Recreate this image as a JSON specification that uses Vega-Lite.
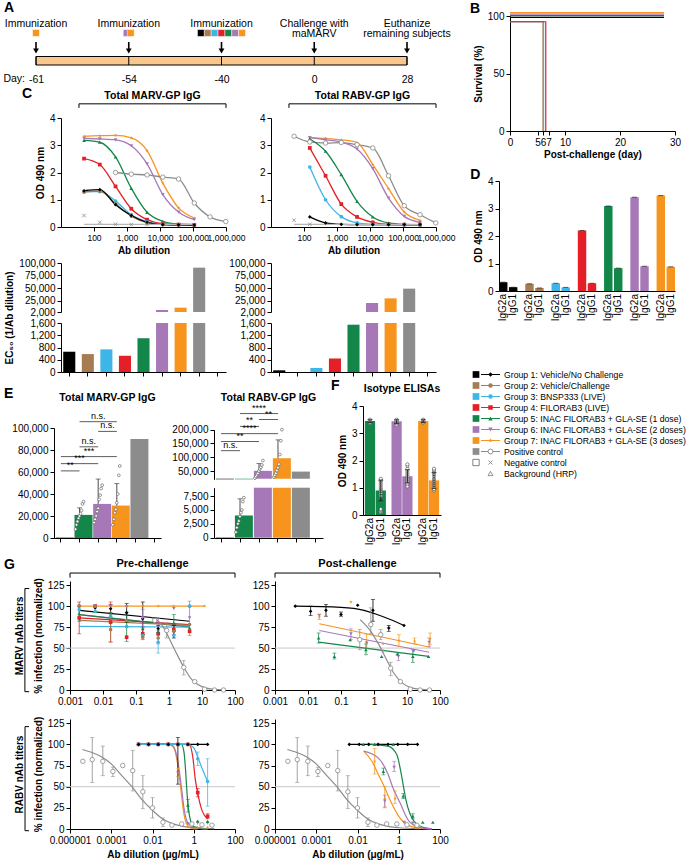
{
"$schema":"https://vega.github.io/schema/vega-lite/v6.json",
"background":"white",
"padding":{"left":3,"top":1,"right":0,"bottom":2},
"config":{
 "font":"Liberation Sans",
 "view":{"stroke":null},
 "axis":{"domainColor":"#000","tickColor":"#000","labelColor":"#000","titleColor":"#000","labelFontSize":9.5,"titleFontSize":10,"titleFontWeight":"bold","grid":false,"tickSize":4,"labelPadding":2,"titlePadding":4,"labelOverlap":false,"labelFlush":false},
 "range":{"category":["#000000","#a67c52","#3db5e6","#e41f26","#13874a","#a778b8","#f7941d","#8c8c8c","#8c8c8c","#b8b8b8"],
  "symbol":["diamond","circle","circle","square","triangle-up","triangle-down","M0,-1L0.24,-0.33L0.95,-0.31L0.38,0.12L0.59,0.81L0,0.4L-0.59,0.81L-0.38,0.12L-0.95,-0.31L-0.24,-0.33Z","circle","M-0.8,-0.8L0.8,0.8M-0.8,0.8L0.8,-0.8","triangle-up"]}
},
"datasets":{
 "tl":[{"day":"-61","label":"Immunization"},{"day":"-54","label":"Immunization"},{"day":"-40","label":"Immunization"},{"day":"0","label":"Challenge with\nmaMARV"},{"day":"28","label":"Euthanize\nremaining subjects"}],
 "imm":[{"day":"-61","grp":"G7"},{"day":"-54","grp":"G6"},{"day":"-54","grp":"G7"},{"day":"-40","grp":"G1"},{"day":"-40","grp":"G2"},{"day":"-40","grp":"G3"},{"day":"-40","grp":"G4"},{"day":"-40","grp":"G5"},{"day":"-40","grp":"G6"},{"day":"-40","grp":"G7"}],
 "surv":[{"grp":"G7","day":0,"pct":103},{"grp":"G7","day":28,"pct":103},{"grp":"G6","day":0,"pct":101.7},{"grp":"G6","day":28,"pct":101.7},{"grp":"G5","day":0,"pct":100.3},{"grp":"G5","day":28,"pct":100.3},{"grp":"G1","day":0,"pct":98.8},{"grp":"G1","day":28,"pct":98.8},{"grp":"G2","day":0,"pct":95},{"grp":"G2","day":6,"pct":0},{"grp":"G3","day":0,"pct":95},{"grp":"G3","day":6.1,"pct":0},{"grp":"G4","day":0,"pct":95},{"grp":"G4","day":6.5,"pct":0}],
 "cM":[
  {"grp":"G7","dil":50,"od":3.33},{"grp":"G7","dil":150,"od":3.35},{"grp":"G7","dil":450,"od":3.36},{"grp":"G7","dil":1350,"od":3.27},{"grp":"G7","dil":4050,"od":2.8},{"grp":"G7","dil":12150,"od":1.61},{"grp":"G7","dil":36450,"od":0.7},{"grp":"G7","dil":109350,"od":0.33},
  {"grp":"G6","dil":50,"od":3.25},{"grp":"G6","dil":150,"od":3.23},{"grp":"G6","dil":450,"od":3.2},{"grp":"G6","dil":1350,"od":2.98},{"grp":"G6","dil":4050,"od":2.32},{"grp":"G6","dil":12150,"od":1.19},{"grp":"G6","dil":36450,"od":0.55},{"grp":"G6","dil":109350,"od":0.27},
  {"grp":"G5","dil":50,"od":3.18},{"grp":"G5","dil":150,"od":3.11},{"grp":"G5","dil":450,"od":2.57},{"grp":"G5","dil":1350,"od":1.42},{"grp":"G5","dil":4050,"od":0.54},{"grp":"G5","dil":12150,"od":0.21},{"grp":"G5","dil":36450,"od":0.11},{"grp":"G5","dil":109350,"od":0.09},
  {"grp":"G4","dil":50,"od":2.51},{"grp":"G4","dil":150,"od":2.29},{"grp":"G4","dil":450,"od":1.49},{"grp":"G4","dil":1350,"od":0.67},{"grp":"G4","dil":4050,"od":0.27},{"grp":"G4","dil":12150,"od":0.12},{"grp":"G4","dil":36450,"od":0.09},{"grp":"G4","dil":109350,"od":0.08},
  {"grp":"G3","dil":50,"od":1.3},{"grp":"G3","dil":150,"od":1.3},{"grp":"G3","dil":450,"od":0.95},{"grp":"G3","dil":1350,"od":0.45},{"grp":"G3","dil":4050,"od":0.2},{"grp":"G3","dil":12150,"od":0.1},{"grp":"G3","dil":36450,"od":0.08},{"grp":"G3","dil":109350,"od":0.07},
  {"grp":"G2","dil":50,"od":1.28},{"grp":"G2","dil":150,"od":1.32},{"grp":"G2","dil":450,"od":0.85},{"grp":"G2","dil":1350,"od":0.4},{"grp":"G2","dil":4050,"od":0.16},{"grp":"G2","dil":12150,"od":0.09},{"grp":"G2","dil":36450,"od":0.08},{"grp":"G2","dil":109350,"od":0.07},
  {"grp":"G1","dil":50,"od":1.33},{"grp":"G1","dil":150,"od":1.37},{"grp":"G1","dil":450,"od":0.82},{"grp":"G1","dil":1350,"od":0.42},{"grp":"G1","dil":4050,"od":0.17},{"grp":"G1","dil":12150,"od":0.09},{"grp":"G1","dil":36450,"od":0.08},{"grp":"G1","dil":109350,"od":0.07},
  {"grp":"Pos","dil":450,"od":2.0},{"grp":"Pos","dil":1350,"od":1.94},{"grp":"Pos","dil":4050,"od":1.91},{"grp":"Pos","dil":12150,"od":1.83},{"grp":"Pos","dil":36450,"od":1.76},{"grp":"Pos","dil":109350,"od":0.88},{"grp":"Pos","dil":328050,"od":0.37},{"grp":"Pos","dil":984150,"od":0.2},
  {"grp":"Neg","dil":50,"od":0.42},{"grp":"Neg","dil":150,"od":0.17},{"grp":"Neg","dil":450,"od":0.1},{"grp":"Neg","dil":1350,"od":0.09},{"grp":"Neg","dil":4050,"od":0.09},
  {"grp":"Bkg","dil":50,"od":0.1},{"grp":"Bkg","dil":150,"od":0.1},{"grp":"Bkg","dil":450,"od":0.1},{"grp":"Bkg","dil":1350,"od":0.1},{"grp":"Bkg","dil":4050,"od":0.1},{"grp":"Bkg","dil":12150,"od":0.1},{"grp":"Bkg","dil":36450,"od":0.1},{"grp":"Bkg","dil":109350,"od":0.1}],
 "cR":[
  {"grp":"Pos","dil":50,"od":3.33},{"grp":"Pos","dil":150,"od":3.12},{"grp":"Pos","dil":450,"od":3.08},{"grp":"Pos","dil":1350,"od":3.1},{"grp":"Pos","dil":4050,"od":3.02},{"grp":"Pos","dil":12150,"od":2.9},{"grp":"Pos","dil":36450,"od":1.88},{"grp":"Pos","dil":109350,"od":0.78},{"grp":"Pos","dil":328050,"od":0.45},{"grp":"Pos","dil":984150,"od":0.15},
  {"grp":"G7","dil":150,"od":3.28},{"grp":"G7","dil":450,"od":3.25},{"grp":"G7","dil":1350,"od":3.2},{"grp":"G7","dil":4050,"od":3.1},{"grp":"G7","dil":12150,"od":2.29},{"grp":"G7","dil":36450,"od":1.41},{"grp":"G7","dil":109350,"od":0.55},{"grp":"G7","dil":328050,"od":0.24},
  {"grp":"G6","dil":150,"od":3.28},{"grp":"G6","dil":450,"od":3.2},{"grp":"G6","dil":1350,"od":3.12},{"grp":"G6","dil":4050,"od":2.86},{"grp":"G6","dil":12150,"od":2.14},{"grp":"G6","dil":36450,"od":1.06},{"grp":"G6","dil":109350,"od":0.39},{"grp":"G6","dil":328050,"od":0.17},
  {"grp":"G5","dil":150,"od":3.23},{"grp":"G5","dil":450,"od":2.78},{"grp":"G5","dil":1350,"od":1.92},{"grp":"G5","dil":4050,"od":0.94},{"grp":"G5","dil":12150,"od":0.37},{"grp":"G5","dil":36450,"od":0.15},{"grp":"G5","dil":109350,"od":0.1},{"grp":"G5","dil":328050,"od":0.09},
  {"grp":"G4","dil":150,"od":2.9},{"grp":"G4","dil":450,"od":1.88},{"grp":"G4","dil":1350,"od":0.84},{"grp":"G4","dil":4050,"od":0.37},{"grp":"G4","dil":12150,"od":0.17},{"grp":"G4","dil":36450,"od":0.1},{"grp":"G4","dil":109350,"od":0.09},{"grp":"G4","dil":328050,"od":0.09},
  {"grp":"G3","dil":150,"od":2.2},{"grp":"G3","dil":450,"od":1.0},{"grp":"G3","dil":1350,"od":0.38},{"grp":"G3","dil":4050,"od":0.15},{"grp":"G3","dil":12150,"od":0.1},{"grp":"G3","dil":36450,"od":0.09},{"grp":"G3","dil":109350,"od":0.09},{"grp":"G3","dil":328050,"od":0.09},
  {"grp":"G1","dil":150,"od":0.37},{"grp":"G1","dil":450,"od":0.15},{"grp":"G1","dil":1350,"od":0.1},{"grp":"G1","dil":4050,"od":0.09},{"grp":"G1","dil":12150,"od":0.09},{"grp":"G1","dil":36450,"od":0.09},{"grp":"G1","dil":109350,"od":0.09},{"grp":"G1","dil":328050,"od":0.09},
  {"grp":"Neg","dil":50,"od":0.25},{"grp":"Neg","dil":150,"od":0.1},
  {"grp":"Bkg","dil":50,"od":0.1},{"grp":"Bkg","dil":150,"od":0.1},{"grp":"Bkg","dil":450,"od":0.1},{"grp":"Bkg","dil":1350,"od":0.1},{"grp":"Bkg","dil":4050,"od":0.1},{"grp":"Bkg","dil":12150,"od":0.1},{"grp":"Bkg","dil":36450,"od":0.1},{"grp":"Bkg","dil":109350,"od":0.1},{"grp":"Bkg","dil":328050,"od":0.1}],
 "ec":[{"p":"M","grp":"G1","val":662},{"p":"M","grp":"G2","val":585},{"p":"M","grp":"G3","val":739},{"p":"M","grp":"G4","val":530},{"p":"M","grp":"G5","val":1103},{"p":"M","grp":"G6","val":6000},{"p":"M","grp":"G7","val":10670},{"p":"M","grp":"Pos","val":90700},
  {"p":"R","grp":"G1","val":55},{"p":"R","grp":"G3","val":132},{"p":"R","grp":"G4","val":441},{"p":"R","grp":"G5","val":1545},{"p":"R","grp":"G6","val":20000},{"p":"R","grp":"G7","val":29300},{"p":"R","grp":"Pos","val":48700}],
 "iso":[{"grp":"G1","iso":"IgG2a","od":0.32},{"grp":"G1","iso":"IgG1","od":0.14},{"grp":"G2","iso":"IgG2a","od":0.26},{"grp":"G2","iso":"IgG1","od":0.11},{"grp":"G3","iso":"IgG2a","od":0.28},{"grp":"G3","iso":"IgG1","od":0.13},{"grp":"G4","iso":"IgG2a","od":2.2},{"grp":"G4","iso":"IgG1","od":0.28},{"grp":"G5","iso":"IgG2a","od":3.09},{"grp":"G5","iso":"IgG1","od":0.83},{"grp":"G6","iso":"IgG2a","od":3.41},{"grp":"G6","iso":"IgG1","od":0.9},{"grp":"G7","iso":"IgG2a","od":3.47},{"grp":"G7","iso":"IgG1","od":0.88}],
 "eBar":[{"p":"M","grp":"G1","val":300},{"p":"M","grp":"G5","val":21000,"hi":27400},{"p":"M","grp":"G6","val":31000,"hi":53600},{"p":"M","grp":"G7","val":29500,"hi":49400},{"p":"M","grp":"Pos","val":90000},
  {"p":"R","grp":"G1","val":60},{"p":"R","grp":"G5","val":4000,"hi":7000},{"p":"R","grp":"G6","val":50700,"hi":77000},{"p":"R","grp":"G7","val":96000,"hi":163000},{"p":"R","grp":"Pos","val":48000}],
 "ePts":[
  {"p":"M","grp":"G5","rep":1,"v":8000},{"p":"M","grp":"G5","rep":2,"v":12000},{"p":"M","grp":"G5","rep":3,"v":15000},{"p":"M","grp":"G5","rep":4,"v":18000},{"p":"M","grp":"G5","rep":5,"v":20000},{"p":"M","grp":"G5","rep":6,"v":22000},{"p":"M","grp":"G5","rep":7,"v":25000},{"p":"M","grp":"G5","rep":8,"v":31000},{"p":"M","grp":"G5","rep":9,"v":33000},
  {"p":"M","grp":"G6","rep":1,"v":14000},{"p":"M","grp":"G6","rep":2,"v":17000},{"p":"M","grp":"G6","rep":3,"v":20000},{"p":"M","grp":"G6","rep":4,"v":24000},{"p":"M","grp":"G6","rep":5,"v":27000},{"p":"M","grp":"G6","rep":6,"v":35000},{"p":"M","grp":"G6","rep":7,"v":39000},{"p":"M","grp":"G6","rep":8,"v":45000},{"p":"M","grp":"G6","rep":9,"v":48000},
  {"p":"M","grp":"G7","rep":1,"v":12000},{"p":"M","grp":"G7","rep":2,"v":17000},{"p":"M","grp":"G7","rep":3,"v":23000},{"p":"M","grp":"G7","rep":4,"v":26000},{"p":"M","grp":"G7","rep":5,"v":32000},{"p":"M","grp":"G7","rep":6,"v":40000},{"p":"M","grp":"G7","rep":7,"v":57000},{"p":"M","grp":"G7","rep":8,"v":65500},
  {"p":"R","grp":"G5","rep":1,"v":1000},{"p":"R","grp":"G5","rep":2,"v":1800},{"p":"R","grp":"G5","rep":3,"v":2500},{"p":"R","grp":"G5","rep":4,"v":3000},{"p":"R","grp":"G5","rep":5,"v":3800},{"p":"R","grp":"G5","rep":6,"v":4500},{"p":"R","grp":"G5","rep":7,"v":5000},{"p":"R","grp":"G5","rep":8,"v":6500},{"p":"R","grp":"G5","rep":9,"v":7200},
  {"p":"R","grp":"G6","rep":1,"v":24000},{"p":"R","grp":"G6","rep":2,"v":30000},{"p":"R","grp":"G6","rep":3,"v":36000},{"p":"R","grp":"G6","rep":4,"v":42000},{"p":"R","grp":"G6","rep":5,"v":50000},{"p":"R","grp":"G6","rep":6,"v":58000},{"p":"R","grp":"G6","rep":7,"v":64000},{"p":"R","grp":"G6","rep":8,"v":72000},{"p":"R","grp":"G6","rep":9,"v":88000},
  {"p":"R","grp":"G7","rep":1,"v":28000},{"p":"R","grp":"G7","rep":2,"v":35000},{"p":"R","grp":"G7","rep":3,"v":42000},{"p":"R","grp":"G7","rep":4,"v":52000},{"p":"R","grp":"G7","rep":5,"v":62000},{"p":"R","grp":"G7","rep":6,"v":75000},{"p":"R","grp":"G7","rep":7,"v":110000},{"p":"R","grp":"G7","rep":8,"v":160000},{"p":"R","grp":"G7","rep":9,"v":200000}],
 "eSig":[{"p":"M","a":"G1","b":"G5","y":61000,"t":"**"},{"p":"M","a":"G1","b":"G6","y":67600,"t":"***"},{"p":"M","a":"G1","b":"G7","y":74000,"t":"***"},{"p":"M","a":"G5","b":"G6","y":82900,"t":"n.s."},{"p":"M","a":"G6","b":"G7","y":96900,"t":"n.s."},{"p":"M","a":"G5","b":"G7","y":105750,"t":"n.s."},
  {"p":"R","a":"G1","b":"G5","y":124000,"t":"n.s."},{"p":"R","a":"G1","b":"G6","y":157100,"t":"**"},{"p":"R","a":"G1","b":"G7","y":185700,"t":"****"},{"p":"R","a":"G5","b":"G6","y":212000,"t":"**"},{"p":"R","a":"G6","b":"G7","y":237000,"t":"**"},{"p":"R","a":"G5","b":"G7","y":258600,"t":"****"}],
 "fBar":[{"grp":"G5","iso":"IgG2a","od":3.45,"lo":3.4,"hi":3.5},{"grp":"G5","iso":"IgG1","od":0.9,"lo":0.52,"hi":1.28},{"grp":"G6","iso":"IgG2a","od":3.44,"lo":3.36,"hi":3.5},{"grp":"G6","iso":"IgG1","od":1.42,"lo":1.18,"hi":1.66},{"grp":"G7","iso":"IgG2a","od":3.45,"lo":3.4,"hi":3.5},{"grp":"G7","iso":"IgG1","od":1.27,"lo":0.98,"hi":1.56}],
 "fPts":[
  {"grp":"G5","iso":"IgG2a","v":3.38},{"grp":"G5","iso":"IgG2a","v":3.42},{"grp":"G5","iso":"IgG2a","v":3.45},{"grp":"G5","iso":"IgG2a","v":3.47},{"grp":"G5","iso":"IgG2a","v":3.5},
  {"grp":"G5","iso":"IgG1","v":0.1},{"grp":"G5","iso":"IgG1","v":0.14},{"grp":"G5","iso":"IgG1","v":0.18},{"grp":"G5","iso":"IgG1","v":0.22},{"grp":"G5","iso":"IgG1","v":0.7},{"grp":"G5","iso":"IgG1","v":0.8},{"grp":"G5","iso":"IgG1","v":0.88},{"grp":"G5","iso":"IgG1","v":0.95},{"grp":"G5","iso":"IgG1","v":1.0},{"grp":"G5","iso":"IgG1","v":1.08},{"grp":"G5","iso":"IgG1","v":1.15},{"grp":"G5","iso":"IgG1","v":1.22},{"grp":"G5","iso":"IgG1","v":1.28},{"grp":"G5","iso":"IgG1","v":1.33},
  {"grp":"G6","iso":"IgG2a","v":3.3},{"grp":"G6","iso":"IgG2a","v":3.36},{"grp":"G6","iso":"IgG2a","v":3.4},{"grp":"G6","iso":"IgG2a","v":3.44},{"grp":"G6","iso":"IgG2a","v":3.47},{"grp":"G6","iso":"IgG2a","v":3.5},
  {"grp":"G6","iso":"IgG1","v":1.05},{"grp":"G6","iso":"IgG1","v":1.15},{"grp":"G6","iso":"IgG1","v":1.22},{"grp":"G6","iso":"IgG1","v":1.3},{"grp":"G6","iso":"IgG1","v":1.36},{"grp":"G6","iso":"IgG1","v":1.42},{"grp":"G6","iso":"IgG1","v":1.48},{"grp":"G6","iso":"IgG1","v":1.55},{"grp":"G6","iso":"IgG1","v":1.62},{"grp":"G6","iso":"IgG1","v":1.7},{"grp":"G6","iso":"IgG1","v":1.8},{"grp":"G6","iso":"IgG1","v":1.86},
  {"grp":"G7","iso":"IgG2a","v":3.38},{"grp":"G7","iso":"IgG2a","v":3.42},{"grp":"G7","iso":"IgG2a","v":3.45},{"grp":"G7","iso":"IgG2a","v":3.48},{"grp":"G7","iso":"IgG2a","v":3.5},
  {"grp":"G7","iso":"IgG1","v":0.9},{"grp":"G7","iso":"IgG1","v":0.95},{"grp":"G7","iso":"IgG1","v":1.02},{"grp":"G7","iso":"IgG1","v":1.1},{"grp":"G7","iso":"IgG1","v":1.18},{"grp":"G7","iso":"IgG1","v":1.25},{"grp":"G7","iso":"IgG1","v":1.32},{"grp":"G7","iso":"IgG1","v":1.42},{"grp":"G7","iso":"IgG1","v":1.5},{"grp":"G7","iso":"IgG1","v":1.58},{"grp":"G7","iso":"IgG1","v":1.65},{"grp":"G7","iso":"IgG1","v":1.7}],
 "leg":[{"grp":"G1","label":"Group 1: Vehicle/No Challenge"},{"grp":"G2","label":"Group 2: Vehicle/Challenge"},{"grp":"G3","label":"Group 3: BNSP333 (LIVE)"},{"grp":"G4","label":"Group 4: FILORAB3 (LIVE)"},{"grp":"G5","label":"Group 5: INAC FILORAB3 + GLA-SE (1 dose)"},{"grp":"G6","label":"Group 6: INAC FILORAB3 + GLA-SE (2 doses)"},{"grp":"G7","label":"Group 7: INAC FILORAB3 + GLA-SE (3 doses)"},{"grp":"Pos","label":"Positive control"},{"grp":"Neg","label":"Negative control"},{"grp":"Bkg","label":"Background (HRP)"}],
 "gfit":[
  {"p":"MP","grp":"G1","x":0.0019,"y":95},{"p":"MP","grp":"G1","x":4.2,"y":82},
  {"p":"MP","grp":"G7","x":0.0019,"y":100},{"p":"MP","grp":"G7","x":12,"y":100},
  {"p":"MP","grp":"G6","x":0.0019,"y":90},{"p":"MP","grp":"G6","x":4.2,"y":76},
  {"p":"MP","grp":"G4","x":0.0019,"y":86},{"p":"MP","grp":"G4","x":4.2,"y":78},
  {"p":"MP","grp":"G5","x":0.0019,"y":90},{"p":"MP","grp":"G5","x":4.2,"y":75},
  {"p":"MP","grp":"G3","x":0.0019,"y":76},{"p":"MP","grp":"G3","x":4.2,"y":75},
  {"p":"MP","grp":"G2","x":0.0019,"y":83},{"p":"MP","grp":"G2","x":4.2,"y":77},
  {"p":"MP","grp":"Pos","x":0.3,"y":86},{"p":"MP","grp":"Pos","x":0.6,"y":78},{"p":"MP","grp":"Pos","x":1,"y":62},{"p":"MP","grp":"Pos","x":1.4,"y":50},{"p":"MP","grp":"Pos","x":2,"y":38},{"p":"MP","grp":"Pos","x":3,"y":25},{"p":"MP","grp":"Pos","x":5,"y":12},{"p":"MP","grp":"Pos","x":10,"y":4},{"p":"MP","grp":"Pos","x":20,"y":1},{"p":"MP","grp":"Pos","x":50,"y":0.2},
  {"p":"MQ","grp":"G1","x":0.0041,"y":100},{"p":"MQ","grp":"G1","x":0.1,"y":98.5},{"p":"MQ","grp":"G1","x":0.5,"y":95},{"p":"MQ","grp":"G1","x":2,"y":87},{"p":"MQ","grp":"G1","x":8.1,"y":77},
  {"p":"MQ","grp":"G7","x":0.022,"y":79},{"p":"MQ","grp":"G7","x":50,"y":51},
  {"p":"MQ","grp":"G6","x":0.022,"y":71},{"p":"MQ","grp":"G6","x":47,"y":45},
  {"p":"MQ","grp":"G5","x":0.021,"y":57},{"p":"MQ","grp":"G5","x":45,"y":40},
  {"p":"MQ","grp":"Pos","x":0.38,"y":84},{"p":"MQ","grp":"Pos","x":0.8,"y":70},{"p":"MQ","grp":"Pos","x":1.5,"y":52},{"p":"MQ","grp":"Pos","x":2.5,"y":35},{"p":"MQ","grp":"Pos","x":4,"y":20},{"p":"MQ","grp":"Pos","x":8,"y":7},{"p":"MQ","grp":"Pos","x":16,"y":2},{"p":"MQ","grp":"Pos","x":48,"y":0.2},
  {"p":"RP","grp":"G1","x":0.0021,"y":100},{"p":"RP","grp":"G1","x":4.7,"y":100},
  {"p":"RP","grp":"G7","x":0.0021,"y":100},{"p":"RP","grp":"G7","x":0.06,"y":100},{"p":"RP","grp":"G7","x":0.1,"y":97},{"p":"RP","grp":"G7","x":0.17,"y":75},{"p":"RP","grp":"G7","x":0.23,"y":50},{"p":"RP","grp":"G7","x":0.3,"y":25},{"p":"RP","grp":"G7","x":0.45,"y":6},{"p":"RP","grp":"G7","x":0.7,"y":1},{"p":"RP","grp":"G7","x":1.5,"y":0},
  {"p":"RP","grp":"G6","x":0.0021,"y":100},{"p":"RP","grp":"G6","x":0.06,"y":100},{"p":"RP","grp":"G6","x":0.1,"y":98},{"p":"RP","grp":"G6","x":0.17,"y":80},{"p":"RP","grp":"G6","x":0.25,"y":50},{"p":"RP","grp":"G6","x":0.35,"y":22},{"p":"RP","grp":"G6","x":0.5,"y":8},{"p":"RP","grp":"G6","x":1,"y":2},{"p":"RP","grp":"G6","x":4.7,"y":0},
  {"p":"RP","grp":"G5","x":0.0021,"y":100},{"p":"RP","grp":"G5","x":0.25,"y":100},{"p":"RP","grp":"G5","x":0.33,"y":92},{"p":"RP","grp":"G5","x":0.4,"y":70},{"p":"RP","grp":"G5","x":0.45,"y":50},{"p":"RP","grp":"G5","x":0.52,"y":30},{"p":"RP","grp":"G5","x":0.7,"y":10},{"p":"RP","grp":"G5","x":1,"y":3},{"p":"RP","grp":"G5","x":4.7,"y":0},
  {"p":"RP","grp":"G4","x":0.0021,"y":100},{"p":"RP","grp":"G4","x":0.6,"y":100},{"p":"RP","grp":"G4","x":0.9,"y":85},{"p":"RP","grp":"G4","x":1.2,"y":58},{"p":"RP","grp":"G4","x":1.56,"y":42},{"p":"RP","grp":"G4","x":2.5,"y":22},{"p":"RP","grp":"G4","x":4.7,"y":12},
  {"p":"RP","grp":"G3","x":0.0021,"y":100},{"p":"RP","grp":"G3","x":0.5,"y":100},{"p":"RP","grp":"G3","x":1,"y":96},{"p":"RP","grp":"G3","x":1.56,"y":85},{"p":"RP","grp":"G3","x":2.5,"y":72},{"p":"RP","grp":"G3","x":4.7,"y":56},
  {"p":"R","grp":"Pos","x":0.000004,"y":94},{"p":"R","grp":"Pos","x":0.00001,"y":91},{"p":"R","grp":"Pos","x":0.00003,"y":86},{"p":"R","grp":"Pos","x":0.0001,"y":77},{"p":"R","grp":"Pos","x":0.0003,"y":64},{"p":"R","grp":"Pos","x":0.001,"y":50},{"p":"R","grp":"Pos","x":0.003,"y":35},{"p":"R","grp":"Pos","x":0.01,"y":22},{"p":"R","grp":"Pos","x":0.03,"y":12},{"p":"R","grp":"Pos","x":0.1,"y":6},{"p":"R","grp":"Pos","x":0.3,"y":3},{"p":"R","grp":"Pos","x":1,"y":1.5},{"p":"R","grp":"Pos","x":10,"y":0.5},
  {"p":"RQ","grp":"G1","x":0.004,"y":100},{"p":"RQ","grp":"G1","x":8.1,"y":100},
  {"p":"RQ","grp":"G5","x":0.03,"y":100},{"p":"RQ","grp":"G5","x":0.3,"y":98},{"p":"RQ","grp":"G5","x":0.8,"y":88},{"p":"RQ","grp":"G5","x":1.3,"y":66},{"p":"RQ","grp":"G5","x":1.7,"y":50},{"p":"RQ","grp":"G5","x":2.2,"y":35},{"p":"RQ","grp":"G5","x":3.5,"y":18},{"p":"RQ","grp":"G5","x":6,"y":8},{"p":"RQ","grp":"G5","x":15,"y":2},{"p":"RQ","grp":"G5","x":40,"y":0.3},
  {"p":"RQ","grp":"G7","x":0.02,"y":92},{"p":"RQ","grp":"G7","x":0.05,"y":80},{"p":"RQ","grp":"G7","x":0.1,"y":65},{"p":"RQ","grp":"G7","x":0.2,"y":50},{"p":"RQ","grp":"G7","x":0.4,"y":33},{"p":"RQ","grp":"G7","x":1,"y":15},{"p":"RQ","grp":"G7","x":3,"y":4},{"p":"RQ","grp":"G7","x":10,"y":1},{"p":"RQ","grp":"G7","x":40,"y":0.2},
  {"p":"RQ","grp":"G6","x":0.02,"y":92},{"p":"RQ","grp":"G6","x":0.1,"y":84},{"p":"RQ","grp":"G6","x":0.3,"y":65},{"p":"RQ","grp":"G6","x":0.5,"y":50},{"p":"RQ","grp":"G6","x":1.2,"y":30},{"p":"RQ","grp":"G6","x":3,"y":10},{"p":"RQ","grp":"G6","x":10,"y":2},{"p":"RQ","grp":"G6","x":40,"y":0.2}],
 "gpts":[
  {"p":"MP","grp":"G1","x":0.0019,"y":100},{"p":"MP","grp":"G1","x":0.0058,"y":98},{"p":"MP","grp":"G1","x":0.017,"y":97,"lo":92,"hi":102},{"p":"MP","grp":"G1","x":0.052,"y":92,"lo":81,"hi":103},{"p":"MP","grp":"G1","x":0.16,"y":85,"lo":66,"hi":105},{"p":"MP","grp":"G1","x":0.47,"y":73,"lo":68,"hi":77},{"p":"MP","grp":"G1","x":1.4,"y":70,"lo":62,"hi":77},{"p":"MP","grp":"G1","x":4.2,"y":100},
  {"p":"MP","grp":"G7","x":0.0019,"y":100},{"p":"MP","grp":"G7","x":0.0058,"y":100},{"p":"MP","grp":"G7","x":0.017,"y":100},{"p":"MP","grp":"G7","x":0.052,"y":100},{"p":"MP","grp":"G7","x":0.16,"y":100},{"p":"MP","grp":"G7","x":0.47,"y":100},{"p":"MP","grp":"G7","x":1.4,"y":100},{"p":"MP","grp":"G7","x":4.2,"y":100},{"p":"MP","grp":"G7","x":12,"y":100},
  {"p":"MP","grp":"G6","x":0.0019,"y":100},{"p":"MP","grp":"G6","x":0.0058,"y":100},{"p":"MP","grp":"G6","x":0.017,"y":100},{"p":"MP","grp":"G6","x":0.052,"y":99},{"p":"MP","grp":"G6","x":0.16,"y":86,"lo":76,"hi":96},{"p":"MP","grp":"G6","x":0.47,"y":70,"lo":55,"hi":85},{"p":"MP","grp":"G6","x":1.4,"y":97},{"p":"MP","grp":"G6","x":4.2,"y":86,"lo":65,"hi":106},
  {"p":"MP","grp":"G4","x":0.0019,"y":86,"lo":67,"hi":105},{"p":"MP","grp":"G4","x":0.0058,"y":100},{"p":"MP","grp":"G4","x":0.017,"y":81,"lo":57,"hi":105},{"p":"MP","grp":"G4","x":0.052,"y":63},{"p":"MP","grp":"G4","x":0.16,"y":67,"lo":60,"hi":74},{"p":"MP","grp":"G4","x":0.47,"y":67},{"p":"MP","grp":"G4","x":1.4,"y":72,"lo":66,"hi":78},{"p":"MP","grp":"G4","x":4.2,"y":70},
  {"p":"MP","grp":"G5","x":0.0019,"y":91,"lo":82,"hi":100},{"p":"MP","grp":"G5","x":0.0058,"y":94},{"p":"MP","grp":"G5","x":0.017,"y":92},{"p":"MP","grp":"G5","x":0.052,"y":76,"lo":58,"hi":93},{"p":"MP","grp":"G5","x":0.16,"y":73},{"p":"MP","grp":"G5","x":0.47,"y":70},{"p":"MP","grp":"G5","x":1.4,"y":80,"lo":70,"hi":90},{"p":"MP","grp":"G5","x":4.2,"y":74},
  {"p":"MP","grp":"G3","x":0.0019,"y":96},{"p":"MP","grp":"G3","x":0.0058,"y":94},{"p":"MP","grp":"G3","x":0.017,"y":88},{"p":"MP","grp":"G3","x":0.052,"y":76},{"p":"MP","grp":"G3","x":0.16,"y":65},{"p":"MP","grp":"G3","x":0.47,"y":57,"lo":44,"hi":66},{"p":"MP","grp":"G3","x":1.4,"y":65},{"p":"MP","grp":"G3","x":4.2,"y":100},
  {"p":"MP","grp":"G2","x":0.0019,"y":100},{"p":"MP","grp":"G2","x":0.0058,"y":100},{"p":"MP","grp":"G2","x":0.017,"y":72,"lo":58,"hi":86},{"p":"MP","grp":"G2","x":0.052,"y":83},{"p":"MP","grp":"G2","x":0.16,"y":63},{"p":"MP","grp":"G2","x":0.47,"y":62},{"p":"MP","grp":"G2","x":1.4,"y":70},{"p":"MP","grp":"G2","x":4.2,"y":78},
  {"p":"MP","grp":"Pos","x":0.37,"y":83},{"p":"MP","grp":"Pos","x":0.85,"y":71,"lo":62,"hi":80},{"p":"MP","grp":"Pos","x":2.8,"y":27,"lo":18,"hi":35},{"p":"MP","grp":"Pos","x":6,"y":10},{"p":"MP","grp":"Pos","x":12,"y":1},{"p":"MP","grp":"Pos","x":24,"y":0},{"p":"MP","grp":"Pos","x":45,"y":0},
  {"p":"MQ","grp":"G1","x":0.0041,"y":100},{"p":"MQ","grp":"G1","x":0.012,"y":94,"lo":89,"hi":100},{"p":"MQ","grp":"G1","x":0.035,"y":95,"lo":88,"hi":102},{"p":"MQ","grp":"G1","x":0.1,"y":90,"lo":88,"hi":93},{"p":"MQ","grp":"G1","x":0.32,"y":101},{"p":"MQ","grp":"G1","x":0.93,"y":95,"lo":82,"hi":108},{"p":"MQ","grp":"G1","x":2.8,"y":74,"lo":70,"hi":77},{"p":"MQ","grp":"G1","x":8.1,"y":77},
  {"p":"MQ","grp":"G7","x":0.022,"y":87,"lo":84,"hi":90},{"p":"MQ","grp":"G7","x":0.2,"y":105},{"p":"MQ","grp":"G7","x":0.6,"y":57,"lo":50,"hi":66},{"p":"MQ","grp":"G7","x":1.9,"y":55},{"p":"MQ","grp":"G7","x":5.7,"y":59,"lo":52,"hi":66},{"p":"MQ","grp":"G7","x":17,"y":58,"lo":55,"hi":62},{"p":"MQ","grp":"G7","x":50,"y":61,"lo":54,"hi":68},
  {"p":"MQ","grp":"G6","x":0.022,"y":89},{"p":"MQ","grp":"G6","x":0.2,"y":67,"lo":60,"hi":73},{"p":"MQ","grp":"G6","x":0.6,"y":56},{"p":"MQ","grp":"G6","x":1.8,"y":46},{"p":"MQ","grp":"G6","x":5.5,"y":40,"lo":35,"hi":44},{"p":"MQ","grp":"G6","x":16,"y":46},{"p":"MQ","grp":"G6","x":47,"y":57,"lo":52,"hi":62},
  {"p":"MQ","grp":"G5","x":0.021,"y":62,"lo":56,"hi":68},{"p":"MQ","grp":"G5","x":0.063,"y":40,"lo":37,"hi":44},{"p":"MQ","grp":"G5","x":0.19,"y":60},{"p":"MQ","grp":"G5","x":0.57,"y":48,"lo":42,"hi":55},{"p":"MQ","grp":"G5","x":1.7,"y":40},{"p":"MQ","grp":"G5","x":5.1,"y":43},{"p":"MQ","grp":"G5","x":15,"y":40,"lo":33,"hi":48},{"p":"MQ","grp":"G5","x":45,"y":40},
  {"p":"MQ","grp":"Pos","x":0.37,"y":60,"lo":48,"hi":72},{"p":"MQ","grp":"Pos","x":0.8,"y":78,"lo":67,"hi":98},{"p":"MQ","grp":"Pos","x":1.6,"y":66,"lo":60,"hi":72},{"p":"MQ","grp":"Pos","x":3.2,"y":26,"lo":17,"hi":33},{"p":"MQ","grp":"Pos","x":6.3,"y":10},{"p":"MQ","grp":"Pos","x":12.6,"y":1},{"p":"MQ","grp":"Pos","x":25,"y":0},{"p":"MQ","grp":"Pos","x":48,"y":0},
  {"p":"RP","grp":"G2","x":0.0021,"y":100},{"p":"RP","grp":"G2","x":0.0064,"y":100},{"p":"RP","grp":"G2","x":0.019,"y":100},{"p":"RP","grp":"G2","x":0.058,"y":100},
  {"p":"RP","grp":"G7","x":0.0021,"y":100},{"p":"RP","grp":"G7","x":0.0064,"y":100},{"p":"RP","grp":"G7","x":0.019,"y":100},{"p":"RP","grp":"G7","x":0.058,"y":100},{"p":"RP","grp":"G7","x":0.17,"y":71,"lo":62,"hi":80},{"p":"RP","grp":"G7","x":0.52,"y":3},{"p":"RP","grp":"G7","x":1.56,"y":2},{"p":"RP","grp":"G7","x":4.7,"y":2},
  {"p":"RP","grp":"G6","x":0.0021,"y":100},{"p":"RP","grp":"G6","x":0.0064,"y":100},{"p":"RP","grp":"G6","x":0.019,"y":100},{"p":"RP","grp":"G6","x":0.058,"y":100},{"p":"RP","grp":"G6","x":0.17,"y":66},{"p":"RP","grp":"G6","x":0.52,"y":6},{"p":"RP","grp":"G6","x":1.56,"y":7},{"p":"RP","grp":"G6","x":4.7,"y":7},
  {"p":"RP","grp":"G5","x":0.0021,"y":100},{"p":"RP","grp":"G5","x":0.0064,"y":100},{"p":"RP","grp":"G5","x":0.019,"y":100},{"p":"RP","grp":"G5","x":0.058,"y":100},{"p":"RP","grp":"G5","x":0.17,"y":100},{"p":"RP","grp":"G5","x":0.52,"y":28,"lo":20,"hi":35},{"p":"RP","grp":"G5","x":1.56,"y":9.5},{"p":"RP","grp":"G5","x":4.7,"y":9},
  {"p":"RP","grp":"G4","x":0.0021,"y":100},{"p":"RP","grp":"G4","x":0.0064,"y":100},{"p":"RP","grp":"G4","x":0.019,"y":100},{"p":"RP","grp":"G4","x":0.058,"y":100},{"p":"RP","grp":"G4","x":0.17,"y":100},{"p":"RP","grp":"G4","x":0.52,"y":100},{"p":"RP","grp":"G4","x":1.56,"y":43,"lo":38,"hi":48},{"p":"RP","grp":"G4","x":4.7,"y":15,"lo":12,"hi":18},
  {"p":"RP","grp":"G3","x":0.0021,"y":100},{"p":"RP","grp":"G3","x":0.0064,"y":100},{"p":"RP","grp":"G3","x":0.019,"y":100},{"p":"RP","grp":"G3","x":0.058,"y":100},{"p":"RP","grp":"G3","x":0.17,"y":100},{"p":"RP","grp":"G3","x":0.52,"y":100},{"p":"RP","grp":"G3","x":1.56,"y":83,"lo":75,"hi":91},{"p":"RP","grp":"G3","x":4.7,"y":56,"lo":27,"hi":83},
  {"p":"RP","grp":"G1","x":0.0021,"y":100},{"p":"RP","grp":"G1","x":0.0064,"y":100},{"p":"RP","grp":"G1","x":0.019,"y":100},{"p":"RP","grp":"G1","x":0.058,"y":100},{"p":"RP","grp":"G1","x":0.17,"y":100,"lo":53,"hi":108},{"p":"RP","grp":"G1","x":0.52,"y":100},{"p":"RP","grp":"G1","x":1.56,"y":100},{"p":"RP","grp":"G1","x":4.7,"y":100},
  {"p":"R","grp":"Pos","x":0.0000042,"y":80},{"p":"R","grp":"Pos","x":0.000012,"y":82,"lo":55,"hi":108},{"p":"R","grp":"Pos","x":0.000039,"y":80,"lo":63,"hi":98},{"p":"R","grp":"Pos","x":0.00012,"y":68,"lo":62,"hi":73},{"p":"R","grp":"Pos","x":0.00036,"y":75},{"p":"R","grp":"Pos","x":0.0011,"y":69,"lo":45,"hi":93},{"p":"R","grp":"Pos","x":0.0034,"y":44,"lo":24,"hi":63},{"p":"R","grp":"Pos","x":0.01,"y":25,"lo":13,"hi":37},{"p":"R","grp":"Pos","x":0.032,"y":8,"lo":3,"hi":13},{"p":"R","grp":"Pos","x":0.087,"y":4.5},{"p":"R","grp":"Pos","x":0.26,"y":6},{"p":"R","grp":"Pos","x":0.81,"y":6},{"p":"R","grp":"Pos","x":2.5,"y":5},{"p":"R","grp":"Pos","x":7.6,"y":4.5},
  {"p":"RQ","grp":"G1","x":0.004,"y":100},{"p":"RQ","grp":"G1","x":0.012,"y":100},{"p":"RQ","grp":"G1","x":0.035,"y":100},{"p":"RQ","grp":"G1","x":0.1,"y":100},{"p":"RQ","grp":"G1","x":0.3,"y":100},{"p":"RQ","grp":"G1","x":0.9,"y":100},{"p":"RQ","grp":"G1","x":2.7,"y":100},{"p":"RQ","grp":"G1","x":8.1,"y":100},
  {"p":"RQ","grp":"G5","x":0.019,"y":100},{"p":"RQ","grp":"G5","x":0.068,"y":100},{"p":"RQ","grp":"G5","x":0.18,"y":68,"lo":64,"hi":72},{"p":"RQ","grp":"G5","x":0.54,"y":100},{"p":"RQ","grp":"G5","x":1.66,"y":39,"lo":36,"hi":42},{"p":"RQ","grp":"G5","x":4.8,"y":15,"lo":12,"hi":18},{"p":"RQ","grp":"G5","x":14.6,"y":8},{"p":"RQ","grp":"G5","x":45,"y":8},
  {"p":"RQ","grp":"G7","x":0.068,"y":80,"lo":65,"hi":95},{"p":"RQ","grp":"G7","x":0.21,"y":36,"lo":25,"hi":50},{"p":"RQ","grp":"G7","x":0.66,"y":36,"lo":30,"hi":45},{"p":"RQ","grp":"G7","x":2.0,"y":8},{"p":"RQ","grp":"G7","x":6,"y":2},
  {"p":"RQ","grp":"G6","x":0.21,"y":33,"lo":26,"hi":40},{"p":"RQ","grp":"G6","x":0.6,"y":73,"lo":68,"hi":80},{"p":"RQ","grp":"G6","x":1.8,"y":8},{"p":"RQ","grp":"G6","x":4.8,"y":7}]
},
"spacing":11,
"vconcat":[
 {"spacing":15,"hconcat":[
  {"spacing":2,"vconcat":[
   {"width":321,"height":50,
    "resolve":{"scale":{"xOffset":"independent"}},
    "layer":[
     {"data":{"values":[{"start":"-61","end":"28"}]},"mark":{"type":"rect","fill":"#f9c78c","stroke":"#000","strokeWidth":1},
      "encoding":{"x":{"field":"start","type":"ordinal","scale":{"type":"point","domain":["-61","-54","-40","0","28"],"range":[-25,346],"padding":0},"axis":{"title":null,"domain":false,"ticks":false,"tickSize":0,"labelPadding":8,"labelFontSize":10.5,"labelAngle":0,"labelOverlap":false}},
       "x2":{"field":"end"},"y":{"datum":0.2,"type":"quantitative","scale":{"domain":[0,10]},"axis":null},"y2":{"datum":1.9}}},
     {"data":{"name":"tl"},"mark":{"type":"rule","color":"#000","strokeWidth":1},"encoding":{"x":{"field":"day","type":"ordinal"},"y":{"datum":0.2},"y2":{"datum":1.9}}},
     {"data":{"name":"tl"},"mark":{"type":"rule","color":"#000","strokeWidth":1.6},"encoding":{"x":{"field":"day","type":"ordinal"},"y":{"datum":2.9},"y2":{"datum":4.8}}},
     {"data":{"name":"tl"},"mark":{"type":"point","shape":"triangle-down","filled":true,"color":"#000","size":34,"opacity":1},"encoding":{"x":{"field":"day","type":"ordinal"},"y":{"datum":3.0}}},
     {"data":{"name":"tl"},"mark":{"type":"text","baseline":"top","fontSize":10.5,"lineBreak":"\n","lineHeight":10.5,"color":"#000"},"encoding":{"x":{"field":"day","type":"ordinal"},"y":{"datum":9.5},"text":{"field":"label"}}},
     {"data":{"name":"imm"},"transform":[{"filter":"datum.day=='-61'"}],"mark":{"type":"point","shape":"square","filled":true,"size":48,"opacity":1,"stroke":"#fff","strokeWidth":0.5},"encoding":{"x":{"field":"day","type":"ordinal"},"y":{"datum":6.6},"color":{"field":"grp","type":"nominal","scale":{"domain":["G1","G2","G3","G4","G5","G6","G7","Pos","Neg","Bkg"]},"legend":null}}},
     {"data":{"name":"imm"},"transform":[{"filter":"datum.day=='-54'"}],"mark":{"type":"point","shape":"square","filled":true,"size":48,"opacity":1,"stroke":"#fff","strokeWidth":0.5},"encoding":{"x":{"field":"day","type":"ordinal"},"xOffset":{"field":"grp","type":"nominal","scale":{"type":"point","domain":["G6","G7"],"range":[-4,4]}},"y":{"datum":6.6},"color":{"field":"grp","type":"nominal","scale":{"domain":["G1","G2","G3","G4","G5","G6","G7","Pos","Neg","Bkg"]},"legend":null}}},
     {"data":{"name":"imm"},"transform":[{"filter":"datum.day=='-40'"}],"mark":{"type":"point","shape":"square","filled":true,"size":48,"opacity":1,"stroke":"#fff","strokeWidth":0.5},"encoding":{"x":{"field":"day","type":"ordinal"},"xOffset":{"field":"grp","type":"nominal","scale":{"type":"point","domain":["G1","G2","G3","G4","G5","G6","G7"],"range":[-24,24]}},"y":{"datum":6.6},"color":{"field":"grp","type":"nominal","scale":{"domain":["G1","G2","G3","G4","G5","G6","G7","Pos","Neg","Bkg"]},"legend":null}}},
     {"data":{"values":[{}]},"mark":{"type":"text","text":"Day:","align":"right","baseline":"middle","fontSize":10.5,"dx":-11,"color":"#000"},"encoding":{"x":{"datum":"-61","type":"ordinal"},"y":{"datum":-2.6}}},
     {"data":{"values":[{}]},"mark":{"type":"text","text":"A","align":"left","baseline":"middle","fontSize":14,"fontWeight":"bold","dx":-32,"dy":-7.7,"color":"#000"},"encoding":{"x":{"datum":"-61","type":"ordinal"},"y":{"datum":10}}}
    ]},
   {"bounds":"flush","spacing":45,"hconcat":[
    {"width":165,"height":109,
     "layer":[
      {"data":{"name":"cM"},"transform":[{"filter":"datum.grp!='Neg'"}],"mark":{"type":"line","interpolate":"monotone","strokeWidth":1.3},
       "encoding":{"x":{"field":"dil","type":"quantitative","scale":{"type":"log","domain":[35,1000000]},"axis":{"values":[100,1000,10000,100000,1000000],"tickCount":20,"format":",","title":"Ab dilution","labelFontSize":8.5,"labelOverlap":false}},
        "y":{"field":"od","type":"quantitative","scale":{"domain":[0,4]},"axis":{"values":[0,1,2,3,4],"tickCount":20,"format":"d","title":"OD 490 nm","labelFontSize":10,"labelOverlap":false}},
        "color":{"field":"grp","type":"nominal","scale":{"domain":["G1","G2","G3","G4","G5","G6","G7","Pos","Neg","Bkg"]},"legend":null},"detail":{"field":"grp"}}},
      {"data":{"name":"cM"},"transform":[{"filter":"indexof(['Pos','Neg','Bkg'], datum.grp) < 0"}],"mark":{"type":"point","filled":true,"size":14,"opacity":1},
       "encoding":{"x":{"field":"dil","type":"quantitative"},"y":{"field":"od","type":"quantitative"},"color":{"field":"grp","type":"nominal","scale":{"domain":["G1","G2","G3","G4","G5","G6","G7","Pos","Neg","Bkg"]},"legend":null},"shape":{"field":"grp","type":"nominal","scale":{"domain":["G1","G2","G3","G4","G5","G6","G7","Pos","Neg","Bkg"]},"legend":null}}},
      {"data":{"name":"cM"},"transform":[{"filter":"datum.grp=='Pos' || datum.grp=='Neg'"}],"mark":{"type":"point","filled":false,"fill":"white","size":20,"strokeWidth":0.8,"color":"#888","opacity":1},
       "encoding":{"x":{"field":"dil","type":"quantitative"},"y":{"field":"od","type":"quantitative"},"shape":{"field":"grp","type":"nominal","scale":{"domain":["G1","G2","G3","G4","G5","G6","G7","Pos","Neg","Bkg"]},"legend":null}}},
      {"data":{"values":[{}]},"mark":{"type":"rule","color":"#000","strokeWidth":1},"encoding":{"x":{"datum":35},"x2":{"datum":1000000},"y":{"datum":4.52}}},
      {"data":{"values":[{}]},"mark":{"type":"rule","color":"#000","strokeWidth":1},"encoding":{"x":{"datum":35},"y":{"datum":4.37},"y2":{"datum":4.52}}},
      {"data":{"values":[{}]},"mark":{"type":"rule","color":"#000","strokeWidth":1},"encoding":{"x":{"datum":1000000},"y":{"datum":4.37},"y2":{"datum":4.52}}},
      {"data":{"values":[{}]},"mark":{"type":"text","text":"Total MARV-GP IgG","fontSize":10.5,"fontWeight":"bold","baseline":"middle","dy":-21.6,"color":"#000"},"encoding":{"x":{"datum":5916},"y":{"datum":4}}},
      {"data":{"values":[{}]},"mark":{"type":"text","text":"C","align":"left","baseline":"middle","fontSize":14,"fontWeight":"bold","dx":-57,"dy":-23.6,"color":"#000"},"encoding":{"x":{"datum":35},"y":{"datum":4}}}
     ]},
    {"width":165,"height":109,
     "layer":[
      {"data":{"name":"cR"},"transform":[{"filter":"datum.grp!='Neg'"}],"mark":{"type":"line","interpolate":"monotone","strokeWidth":1.3},
       "encoding":{"x":{"field":"dil","type":"quantitative","scale":{"type":"log","domain":[35,1000000]},"axis":{"values":[100,1000,10000,100000,1000000],"tickCount":20,"format":",","title":"Ab dilution","labelFontSize":8.5,"labelOverlap":false}},
        "y":{"field":"od","type":"quantitative","scale":{"domain":[0,4]},"axis":{"values":[0,1,2,3,4],"tickCount":20,"format":"d","title":null,"labelFontSize":10,"labelOverlap":false}},
        "color":{"field":"grp","type":"nominal","scale":{"domain":["G1","G2","G3","G4","G5","G6","G7","Pos","Neg","Bkg"]},"legend":null},"detail":{"field":"grp"}}},
      {"data":{"name":"cR"},"transform":[{"filter":"indexof(['Pos','Neg','Bkg'], datum.grp) < 0"}],"mark":{"type":"point","filled":true,"size":14,"opacity":1},
       "encoding":{"x":{"field":"dil","type":"quantitative"},"y":{"field":"od","type":"quantitative"},"color":{"field":"grp","type":"nominal","scale":{"domain":["G1","G2","G3","G4","G5","G6","G7","Pos","Neg","Bkg"]},"legend":null},"shape":{"field":"grp","type":"nominal","scale":{"domain":["G1","G2","G3","G4","G5","G6","G7","Pos","Neg","Bkg"]},"legend":null}}},
      {"data":{"name":"cR"},"transform":[{"filter":"datum.grp=='Pos' || datum.grp=='Neg'"}],"mark":{"type":"point","filled":false,"fill":"white","size":20,"strokeWidth":0.8,"color":"#888","opacity":1},
       "encoding":{"x":{"field":"dil","type":"quantitative"},"y":{"field":"od","type":"quantitative"},"shape":{"field":"grp","type":"nominal","scale":{"domain":["G1","G2","G3","G4","G5","G6","G7","Pos","Neg","Bkg"]},"legend":null}}},
      {"data":{"values":[{}]},"mark":{"type":"rule","color":"#000","strokeWidth":1},"encoding":{"x":{"datum":35},"x2":{"datum":1000000},"y":{"datum":4.52}}},
      {"data":{"values":[{}]},"mark":{"type":"rule","color":"#000","strokeWidth":1},"encoding":{"x":{"datum":35},"y":{"datum":4.37},"y2":{"datum":4.52}}},
      {"data":{"values":[{}]},"mark":{"type":"rule","color":"#000","strokeWidth":1},"encoding":{"x":{"datum":1000000},"y":{"datum":4.37},"y2":{"datum":4.52}}},
      {"data":{"values":[{}]},"mark":{"type":"text","text":"Total RABV-GP IgG","fontSize":10.5,"fontWeight":"bold","baseline":"middle","dy":-21.6,"color":"#000"},"encoding":{"x":{"datum":5916},"y":{"datum":4}}}
     ]}
   ]},
   {"bounds":"flush","spacing":45,"hconcat":[
    {"width":165,"height":109,"data":{"name":"ec"},"transform":[{"filter":"datum.p=='M'"}],
     "encoding":{"x":{"field":"grp","type":"nominal","scale":{"domain":["G1","G2","G3","G4","G5","G6","G7","Pos","Neg"],"paddingInner":0.35,"paddingOuter":0.12},"axis":{"labels":false,"title":null,"tickSize":4}},
      "color":{"field":"grp","type":"nominal","scale":{"domain":["G1","G2","G3","G4","G5","G6","G7","Pos","Neg","Bkg"]},"legend":null}},
     "layer":[
      {"mark":{"type":"bar"},"encoding":{"y":{"field":"val","type":"quantitative","scale":{"domain":[2000,100000],"range":[49,0],"clamp":true},"axis":{"orient":"left","values":[2000,25000,50000,75000,100000],"tickCount":20,"format":",d","title":null,"labelFontSize":10,"labelOverlap":false}},"y2":{"datum":2000}}},
      {"mark":{"type":"bar"},"encoding":{"y":{"field":"val","type":"quantitative","scale":{"domain":[0,1600],"range":[109,60],"clamp":true},"axis":{"orient":"left","values":[0,400,800,1200,1600],"tickCount":20,"format":",d","title":"EC₅₀ (1/Ab dilution)","titleX":-47,"titleY":54.5,"labelFontSize":10,"labelOverlap":false}}}}
     ],
     "resolve":{"scale":{"y":"independent"},"axis":{"y":"independent"}}},
    {"width":165,"height":109,"data":{"name":"ec"},"transform":[{"filter":"datum.p=='R'"}],
     "encoding":{"x":{"field":"grp","type":"nominal","scale":{"domain":["G1","G2","G3","G4","G5","G6","G7","Pos","Neg"],"paddingInner":0.35,"paddingOuter":0.12},"axis":{"labels":false,"title":null,"tickSize":4}},
      "color":{"field":"grp","type":"nominal","scale":{"domain":["G1","G2","G3","G4","G5","G6","G7","Pos","Neg","Bkg"]},"legend":null}},
     "layer":[
      {"mark":{"type":"bar"},"encoding":{"y":{"field":"val","type":"quantitative","scale":{"domain":[2000,100000],"range":[49,0],"clamp":true},"axis":{"orient":"left","values":[2000,25000,50000,75000,100000],"tickCount":20,"format":",d","title":null,"labelFontSize":10,"labelOverlap":false}},"y2":{"datum":2000}}},
      {"mark":{"type":"bar"},"encoding":{"y":{"field":"val","type":"quantitative","scale":{"domain":[0,1600],"range":[109,60],"clamp":true},"axis":{"orient":"left","values":[0,400,800,1200,1600],"tickCount":20,"format":",d","title":null,"labelFontSize":10,"labelOverlap":false}}}}
     ],
     "resolve":{"scale":{"y":"independent"},"axis":{"y":"independent"}}}
   ]},
   {"bounds":"flush","spacing":40,"hconcat":[
    {"width":113,"height":132,
     "layer":[
      {"data":{"name":"eBar"},"transform":[{"filter":"datum.p=='M'"}],"mark":{"type":"bar"},
       "encoding":{"x":{"field":"grp","type":"nominal","scale":{"domain":["G1","G5","G6","G7","Pos","Neg"],"range":[-7,100],"paddingInner":0.46,"paddingOuter":0.1},"axis":{"labels":false,"title":null,"tickSize":4}},
        "y":{"field":"val","type":"quantitative","scale":{"domain":[0,100000],"range":[132,22]},"axis":{"values":[0,20000,40000,60000,80000,100000],"tickCount":20,"format":",d","title":null,"labelFontSize":10,"labelOverlap":false,"offset":7}},
        "color":{"field":"grp","type":"nominal","scale":{"domain":["G1","G2","G3","G4","G5","G6","G7","Pos","Neg","Bkg"]},"legend":null}}},
      {"data":{"name":"eBar"},"transform":[{"filter":"datum.p=='M' && isValid(datum.hi)"}],"mark":{"type":"rule","color":"#222","strokeWidth":0.8},"encoding":{"x":{"field":"grp","type":"nominal"},"y":{"field":"val","type":"quantitative"},"y2":{"field":"hi"}}},
      {"data":{"name":"eBar"},"transform":[{"filter":"datum.p=='M' && isValid(datum.hi)"}],"mark":{"type":"tick","orient":"horizontal","size":5,"thickness":0.8,"color":"#222"},"encoding":{"x":{"field":"grp","type":"nominal"},"y":{"field":"hi","type":"quantitative"}}},
      {"data":{"name":"ePts"},"transform":[{"filter":"datum.p=='M'"}],"mark":{"type":"point","filled":false,"fill":"white","color":"#555","strokeWidth":0.6,"size":8,"opacity":1},"encoding":{"x":{"field":"grp","type":"nominal"},"xOffset":{"field":"rep","type":"quantitative","scale":{"domain":[0,10],"range":[0,10]}},"y":{"field":"v","type":"quantitative"}}},
      {"data":{"name":"eSig"},"transform":[{"filter":"datum.p=='M'"}],"mark":{"type":"rule","color":"#333","strokeWidth":0.8},"encoding":{"x":{"field":"a","type":"nominal"},"x2":{"field":"b"},"y":{"field":"y","type":"quantitative"}}},
      {"data":{"name":"eSig"},"transform":[{"filter":"datum.p=='M' && ((datum.a=='G1' && datum.b=='G5') || (datum.a=='G5' && datum.b=='G6') || (datum.a=='G6' && datum.b=='G7'))"}],"mark":{"type":"text","baseline":"bottom","dy":-1,"dx":9.3,"fontSize":9,"color":"#000"},"encoding":{"x":{"field":"a","type":"nominal"},"y":{"field":"y","type":"quantitative"},"text":{"field":"t"}}},
      {"data":{"name":"eSig"},"transform":[{"filter":"datum.p=='M' && ((datum.a=='G1' && datum.b=='G6') || (datum.a=='G5' && datum.b=='G7'))"}],"mark":{"type":"text","baseline":"bottom","dy":-1,"dx":18.6,"fontSize":9,"color":"#000"},"encoding":{"x":{"field":"a","type":"nominal"},"y":{"field":"y","type":"quantitative"},"text":{"field":"t"}}},
      {"data":{"name":"eSig"},"transform":[{"filter":"datum.p=='M' && datum.a=='G1' && datum.b=='G7'"}],"mark":{"type":"text","baseline":"bottom","dy":-1,"dx":28,"fontSize":9,"color":"#000"},"encoding":{"x":{"field":"a","type":"nominal"},"y":{"field":"y","type":"quantitative"},"text":{"field":"t"}}},
      {"data":{"values":[{}]},"mark":{"type":"text","text":"Total MARV-GP IgG","fontSize":10.5,"fontWeight":"bold","baseline":"middle","dx":9.3,"dy":-30.3,"color":"#000"},"encoding":{"x":{"datum":"G6","type":"nominal"},"y":{"datum":100000}}},
      {"data":{"values":[{}]},"mark":{"type":"text","text":"E","align":"left","baseline":"middle","fontSize":14,"fontWeight":"bold","dx":-57,"dy":-34,"color":"#000"},"encoding":{"x":{"datum":"G1","type":"nominal"},"y":{"datum":100000}}}
     ]},
    {"width":109,"height":132,
     "encoding":{"x":{"field":"grp","type":"nominal","scale":{"domain":["G1","G5","G6","G7","Pos","Neg"],"paddingInner":0.46,"paddingOuter":0.1},"axis":{"labels":false,"title":null,"tickSize":4}}},
     "layer":[
      {"layer":[
        {"data":{"name":"eBar"},"transform":[{"filter":"datum.p=='R'"}],"mark":{"type":"bar"},"encoding":{"y":{"field":"val","type":"quantitative","scale":{"domain":[22000,200000],"range":[73.3,23.7],"clamp":true},"axis":{"orient":"left","values":[50000,100000,150000,200000],"tickCount":20,"format":",d","title":null,"labelFontSize":10,"labelOverlap":false}},"y2":{"datum":22000},"color":{"field":"grp","type":"nominal","scale":{"domain":["G1","G2","G3","G4","G5","G6","G7","Pos","Neg","Bkg"]},"legend":null}}},
        {"data":{"name":"eBar"},"transform":[{"filter":"datum.p=='R' && isValid(datum.hi) && datum.val>22000"}],"mark":{"type":"rule","color":"#222","strokeWidth":0.8},"encoding":{"y":{"field":"val","type":"quantitative"},"y2":{"field":"hi"}}},
        {"data":{"name":"eBar"},"transform":[{"filter":"datum.p=='R' && isValid(datum.hi) && datum.val>22000"}],"mark":{"type":"tick","orient":"horizontal","size":5,"thickness":0.8,"color":"#222"},"encoding":{"y":{"field":"hi","type":"quantitative"}}},
        {"data":{"name":"ePts"},"transform":[{"filter":"datum.p=='R' && datum.v>=22000"}],"mark":{"type":"point","filled":false,"fill":"white","color":"#555","strokeWidth":0.6,"size":8,"opacity":1},"encoding":{"xOffset":{"field":"rep","type":"quantitative","scale":{"domain":[0,10],"range":[0,10]}},"y":{"field":"v","type":"quantitative"}}}
      ]},
      {"layer":[
        {"data":{"name":"eSig"},"transform":[{"filter":"datum.p=='R'"}],"mark":{"type":"rule","color":"#333","strokeWidth":0.8},"encoding":{"x":{"field":"a","type":"nominal"},"x2":{"field":"b"},"y":{"field":"y","type":"quantitative","scale":{"domain":[22000,200000],"range":[73.3,23.7]},"axis":null}}},
        {"data":{"name":"eSig"},"transform":[{"filter":"datum.p=='R' && ((datum.a=='G1' && datum.b=='G5') || (datum.a=='G5' && datum.b=='G6') || (datum.a=='G6' && datum.b=='G7'))"}],"mark":{"type":"text","baseline":"bottom","dy":-1,"dx":9.5,"fontSize":9,"color":"#000"},"encoding":{"x":{"field":"a","type":"nominal"},"y":{"field":"y","type":"quantitative"},"text":{"field":"t"}}},
        {"data":{"name":"eSig"},"transform":[{"filter":"datum.p=='R' && ((datum.a=='G1' && datum.b=='G6') || (datum.a=='G5' && datum.b=='G7'))"}],"mark":{"type":"text","baseline":"bottom","dy":-1,"dx":19,"fontSize":9,"color":"#000"},"encoding":{"x":{"field":"a","type":"nominal"},"y":{"field":"y","type":"quantitative"},"text":{"field":"t"}}},
        {"data":{"name":"eSig"},"transform":[{"filter":"datum.p=='R' && datum.a=='G1' && datum.b=='G7'"}],"mark":{"type":"text","baseline":"bottom","dy":-1,"dx":28.5,"fontSize":9,"color":"#000"},"encoding":{"x":{"field":"a","type":"nominal"},"y":{"field":"y","type":"quantitative"},"text":{"field":"t"}}},
        {"data":{"values":[{}]},"mark":{"type":"text","text":"Total RABV-GP IgG","fontSize":10.5,"fontWeight":"bold","baseline":"middle","dx":9.5,"dy":-32,"color":"#000"},"encoding":{"x":{"datum":"G6","type":"nominal"},"y":{"datum":200000}}}
      ]},
      {"layer":[
        {"data":{"name":"eBar"},"transform":[{"filter":"datum.p=='R'"}],"mark":{"type":"bar"},"encoding":{"y":{"field":"val","type":"quantitative","scale":{"domain":[0,8600],"range":[131.7,81.7],"clamp":true},"axis":{"orient":"left","values":[0,2500,5000,7500],"tickCount":20,"format":",d","title":null,"labelFontSize":10,"labelOverlap":false}},"color":{"field":"grp","type":"nominal","scale":{"domain":["G1","G2","G3","G4","G5","G6","G7","Pos","Neg","Bkg"]},"legend":null}}},
        {"data":{"name":"eBar"},"transform":[{"filter":"datum.p=='R' && isValid(datum.hi) && datum.hi<8600"}],"mark":{"type":"rule","color":"#222","strokeWidth":0.8},"encoding":{"y":{"field":"val","type":"quantitative"},"y2":{"field":"hi"}}},
        {"data":{"name":"eBar"},"transform":[{"filter":"datum.p=='R' && isValid(datum.hi) && datum.hi<8600"}],"mark":{"type":"tick","orient":"horizontal","size":5,"thickness":0.8,"color":"#222"},"encoding":{"y":{"field":"hi","type":"quantitative"}}},
        {"data":{"name":"ePts"},"transform":[{"filter":"datum.p=='R' && datum.v<=8600"}],"mark":{"type":"point","filled":false,"fill":"white","color":"#555","strokeWidth":0.6,"size":8,"opacity":1},"encoding":{"xOffset":{"field":"rep","type":"quantitative","scale":{"domain":[0,10],"range":[0,10]}},"y":{"field":"v","type":"quantitative"}}}
      ]}
     ],
     "resolve":{"scale":{"y":"independent"},"axis":{"y":"independent"}}},
    {"width":78,"height":109,
     "layer":[
      {"data":{"name":"fBar"},"mark":{"type":"bar"},
       "encoding":{"x":{"field":"grp","type":"nominal","scale":{"domain":["G5","G6","G7"],"paddingInner":0.21,"paddingOuter":0.07},"axis":{"labels":false,"ticks":false,"title":null}},
        "xOffset":{"field":"iso","type":"nominal","scale":{"domain":["IgG2a","IgG1"],"paddingInner":0.05}},
        "y":{"field":"od","type":"quantitative","scale":{"domain":[0,4]},"axis":{"values":[0,1,2,3,4],"tickCount":20,"format":"d","title":"OD 490 nm","labelFontSize":10,"labelOverlap":false}},
        "color":{"field":"grp","type":"nominal","scale":{"domain":["G1","G2","G3","G4","G5","G6","G7","Pos","Neg","Bkg"]},"legend":null}}},
      {"data":{"name":"fPts"},"mark":{"type":"point","filled":false,"fill":"white","color":"#444","strokeWidth":0.6,"size":10,"opacity":1},"encoding":{"x":{"field":"grp","type":"nominal"},"xOffset":{"field":"iso","type":"nominal"},"y":{"field":"v","type":"quantitative"}}},
      {"data":{"name":"fBar"},"mark":{"type":"rule","color":"#111","strokeWidth":0.9},"encoding":{"x":{"field":"grp","type":"nominal"},"xOffset":{"field":"iso","type":"nominal"},"y":{"field":"lo","type":"quantitative"},"y2":{"field":"hi"}}},
      {"data":{"name":"fBar"},"mark":{"type":"tick","orient":"horizontal","size":5,"thickness":0.9,"color":"#111"},"encoding":{"x":{"field":"grp","type":"nominal"},"xOffset":{"field":"iso","type":"nominal"},"y":{"field":"hi","type":"quantitative"}}},
      {"data":{"name":"fBar"},"mark":{"type":"tick","orient":"horizontal","size":5,"thickness":0.9,"color":"#111"},"encoding":{"x":{"field":"grp","type":"nominal"},"xOffset":{"field":"iso","type":"nominal"},"y":{"field":"lo","type":"quantitative"}}},
      {"data":{"name":"fBar"},"mark":{"type":"text","angle":270,"align":"right","baseline":"middle","dx":-3,"fontSize":10,"color":"#000"},"encoding":{"x":{"field":"grp","type":"nominal"},"xOffset":{"field":"iso","type":"nominal"},"y":{"datum":0},"text":{"field":"iso"}}},
      {"data":{"values":[{}]},"mark":{"type":"text","text":"Isotype ELISAs","fontSize":10.5,"fontWeight":"bold","baseline":"middle","dy":-16.7,"color":"#000"},"encoding":{"x":{"datum":"G6","type":"nominal"},"y":{"datum":4}}},
      {"data":{"values":[{}]},"mark":{"type":"text","text":"F","align":"left","baseline":"middle","fontSize":14,"fontWeight":"bold","dx":-44.4,"dy":-19.7,"color":"#000"},"encoding":{"x":{"datum":"G5","type":"nominal"},"y":{"datum":4}}}
     ]}
   ]}
  ]},
  {"spacing":9,"vconcat":[
   {"width":165,"height":115,
    "layer":[
     {"data":{"name":"surv"},"mark":{"type":"line","strokeWidth":1.2,"interpolate":"step-after"},
      "encoding":{"x":{"field":"day","type":"quantitative","scale":{"domain":[0,30]},"axis":{"values":[0,5,6,7,10,20,30],"tickCount":20,"format":"d","title":"Post-challenge (day)","labelFontSize":10,"titlePadding":2,"labelOverlap":false}},
       "y":{"field":"pct","type":"quantitative","scale":{"domain":[0,100]},"axis":{"values":[0,50,100],"tickCount":20,"format":"d","title":"Survival (%)","labelFontSize":10,"labelOverlap":false}},
       "color":{"field":"grp","type":"nominal","scale":{"domain":["G1","G2","G3","G4","G5","G6","G7","Pos","Neg","Bkg"]},"legend":null},"detail":{"field":"grp"}}},
     {"data":{"values":[{}]},"mark":{"type":"text","text":"B","align":"left","baseline":"middle","fontSize":14,"fontWeight":"bold","dx":-40,"dy":-7.4,"color":"#000"},"encoding":{"x":{"datum":0},"y":{"datum":100}}}
    ]},
   {"bounds":"flush","spacing":78,"vconcat":[
    {"width":165,"height":110,
     "layer":[
      {"data":{"name":"iso"},"mark":{"type":"bar"},
       "encoding":{"x":{"field":"grp","type":"nominal","scale":{"domain":["G1","G2","G3","G4","G5","G6","G7"],"range":[-11,165],"paddingInner":0.3,"paddingOuter":0},"axis":{"labels":false,"ticks":false,"title":null}},
        "xOffset":{"field":"iso","type":"nominal","scale":{"domain":["IgG2a","IgG1"],"paddingInner":0.15}},
        "y":{"field":"od","type":"quantitative","scale":{"domain":[0,4]},"axis":{"values":[0,1,2,3,4],"tickCount":20,"format":"d","title":"OD 490 nm","labelFontSize":10,"labelOverlap":false,"offset":11}},
        "color":{"field":"grp","type":"nominal","scale":{"domain":["G1","G2","G3","G4","G5","G6","G7","Pos","Neg","Bkg"]},"legend":null}}},
      {"data":{"name":"iso"},"mark":{"type":"tick","orient":"horizontal","size":5,"thickness":1,"color":"#222"},"encoding":{"x":{"field":"grp","type":"nominal"},"xOffset":{"field":"iso","type":"nominal"},"y":{"field":"od","type":"quantitative"}}},
      {"data":{"name":"iso"},"mark":{"type":"text","angle":270,"align":"right","baseline":"middle","dx":-3,"fontSize":10,"color":"#000"},"encoding":{"x":{"field":"grp","type":"nominal"},"xOffset":{"field":"iso","type":"nominal"},"y":{"datum":0},"text":{"field":"iso"}}},
      {"data":{"values":[{}]},"mark":{"type":"text","text":"D","align":"left","baseline":"middle","fontSize":14,"fontWeight":"bold","dx":-38,"dy":-6,"color":"#000"},"encoding":{"x":{"datum":"G1","type":"nominal"},"y":{"datum":4}}}
     ]},
    {"width":180,"height":110,"data":{"name":"leg"},
     "encoding":{"y":{"field":"label","type":"nominal","sort":null,"scale":{"type":"point","padding":0.5},"axis":null}},
     "layer":[
      {"transform":[{"filter":"datum.grp!='Neg' && datum.grp!='Bkg'"}],"mark":{"type":"point","shape":"square","filled":true,"size":45,"opacity":1},"encoding":{"x":{"datum":-34,"type":"quantitative","scale":{"domain":[0,180]},"axis":null},"color":{"field":"grp","type":"nominal","scale":{"domain":["G1","G2","G3","G4","G5","G6","G7","Pos","Neg","Bkg"]},"legend":null}}},
      {"transform":[{"filter":"datum.grp=='Neg'"}],"mark":{"type":"point","shape":"square","filled":false,"size":40,"color":"#666","strokeWidth":0.8,"opacity":1},"encoding":{"x":{"datum":-34}}},
      {"transform":[{"filter":"datum.grp!='Neg' && datum.grp!='Bkg'"}],"mark":{"type":"rule","strokeWidth":1},"encoding":{"x":{"datum":-29},"x2":{"datum":-10},"color":{"field":"grp","type":"nominal","scale":{"domain":["G1","G2","G3","G4","G5","G6","G7","Pos","Neg","Bkg"]},"legend":null}}},
      {"transform":[{"filter":"indexof(['Pos','Neg','Bkg'], datum.grp) < 0"}],"mark":{"type":"point","filled":true,"size":20,"opacity":1},"encoding":{"x":{"datum":-19.5},"color":{"field":"grp","type":"nominal","scale":{"domain":["G1","G2","G3","G4","G5","G6","G7","Pos","Neg","Bkg"]},"legend":null},"shape":{"field":"grp","type":"nominal","scale":{"domain":["G1","G2","G3","G4","G5","G6","G7","Pos","Neg","Bkg"]},"legend":null}}},
      {"transform":[{"filter":"indexof(['Pos','Neg','Bkg'], datum.grp) >= 0"}],"mark":{"type":"point","filled":false,"fill":"white","size":24,"color":"#777","strokeWidth":0.8,"opacity":1},"encoding":{"x":{"datum":-19.5},"shape":{"field":"grp","type":"nominal","scale":{"domain":["G1","G2","G3","G4","G5","G6","G7","Pos","Neg","Bkg"]},"legend":null}}},
      {"mark":{"type":"text","align":"left","baseline":"middle","fontSize":8.7,"color":"#000"},"encoding":{"x":{"datum":-6},"text":{"field":"label"}}}
     ]}
   ]}
  ]}
 ]},
 {"spacing":8,"hconcat":[
  {"bounds":"flush","spacing":29,"vconcat":[
   {"width":174,"height":109,
    "layer":[
     {"data":{"values":[{}]},"mark":{"type":"rule","color":"#c8c8c8","strokeWidth":1},"encoding":{"y":{"datum":50}}},
     {"data":{"name":"gfit"},"transform":[{"filter":"datum.p=='MP'"}],"mark":{"type":"line","interpolate":"monotone","strokeWidth":1.2},
      "encoding":{"x":{"field":"x","type":"quantitative","scale":{"type":"log","domain":[0.001,100],"range":[9,174]},"axis":{"values":[0.001,0.01,0.1,1,10,100],"tickCount":20,"format":"~g","title":null,"labelFontSize":10,"labelOverlap":false}},
       "y":{"field":"y","type":"quantitative","scale":{"domain":[0,125]},"axis":{"values":[0,25,50,75,100,125],"tickCount":20,"format":"d","title":["MARV nAb titers","% infection (normalized)"],"titleLineHeight":19,"labelFontSize":10,"labelOverlap":false,"offset":-9}},
       "color":{"field":"grp","type":"nominal","scale":{"domain":["G1","G2","G3","G4","G5","G6","G7","Pos","Neg","Bkg"]},"legend":null},"detail":{"field":"grp"}}},
     {"data":{"name":"gpts"},"transform":[{"filter":"datum.p=='MP' && isValid(datum.lo)"}],"mark":{"type":"rule","strokeWidth":0.8},"encoding":{"x":{"field":"x","type":"quantitative"},"y":{"field":"lo","type":"quantitative"},"y2":{"field":"hi"},"color":{"field":"grp","type":"nominal","scale":{"domain":["G1","G2","G3","G4","G5","G6","G7","Pos","Neg","Bkg"]},"legend":null}}},
     {"data":{"name":"gpts"},"transform":[{"filter":"datum.p=='MP' && isValid(datum.lo)"}],"mark":{"type":"tick","orient":"horizontal","size":4,"thickness":0.8},"encoding":{"x":{"field":"x","type":"quantitative"},"y":{"field":"hi","type":"quantitative"},"color":{"field":"grp","type":"nominal","scale":{"domain":["G1","G2","G3","G4","G5","G6","G7","Pos","Neg","Bkg"]},"legend":null}}},
     {"data":{"name":"gpts"},"transform":[{"filter":"datum.p=='MP' && isValid(datum.lo)"}],"mark":{"type":"tick","orient":"horizontal","size":4,"thickness":0.8},"encoding":{"x":{"field":"x","type":"quantitative"},"y":{"field":"lo","type":"quantitative"},"color":{"field":"grp","type":"nominal","scale":{"domain":["G1","G2","G3","G4","G5","G6","G7","Pos","Neg","Bkg"]},"legend":null}}},
     {"data":{"name":"gpts"},"transform":[{"filter":"datum.p=='MP' && datum.grp!='Pos'"}],"mark":{"type":"point","filled":true,"size":13,"opacity":1},"encoding":{"x":{"field":"x","type":"quantitative"},"y":{"field":"y","type":"quantitative"},"color":{"field":"grp","type":"nominal","scale":{"domain":["G1","G2","G3","G4","G5","G6","G7","Pos","Neg","Bkg"]},"legend":null},"shape":{"field":"grp","type":"nominal","scale":{"domain":["G1","G2","G3","G4","G5","G6","G7","Pos","Neg","Bkg"]},"legend":null}}},
     {"data":{"name":"gpts"},"transform":[{"filter":"datum.p=='MP' && datum.grp=='Pos'"}],"mark":{"type":"point","filled":false,"fill":"white","size":20,"color":"#888","strokeWidth":0.8,"opacity":1},"encoding":{"x":{"field":"x","type":"quantitative"},"y":{"field":"y","type":"quantitative"}}},
     {"data":{"values":[{}]},"mark":{"type":"rule","color":"#000","strokeWidth":1},"encoding":{"x":{"datum":0.001},"x2":{"datum":100},"y":{"datum":139.5}}},
     {"data":{"values":[{}]},"mark":{"type":"rule","color":"#000","strokeWidth":1},"encoding":{"x":{"datum":0.001},"y":{"datum":134},"y2":{"datum":139.5}}},
     {"data":{"values":[{}]},"mark":{"type":"rule","color":"#000","strokeWidth":1},"encoding":{"x":{"datum":100},"y":{"datum":134},"y2":{"datum":139.5}}},
     {"data":{"values":[{}]},"mark":{"type":"rule","color":"#000","strokeWidth":1},"encoding":{"x":{"datum":0.000043},"y":{"datum":-2},"y2":{"datum":121}}},
     {"data":{"values":[{}]},"mark":{"type":"rule","color":"#000","strokeWidth":1},"encoding":{"x":{"datum":0.000043},"x2":{"datum":0.000058},"y":{"datum":121}}},
     {"data":{"values":[{}]},"mark":{"type":"rule","color":"#000","strokeWidth":1},"encoding":{"x":{"datum":0.000043},"x2":{"datum":0.000058},"y":{"datum":-2}}},
     {"data":{"values":[{}]},"mark":{"type":"text","text":"Pre-challenge","fontSize":11,"fontWeight":"bold","baseline":"middle","dy":-21,"color":"#000"},"encoding":{"x":{"datum":0.3162},"y":{"datum":125}}},
     {"data":{"values":[{}]},"mark":{"type":"text","text":"G","align":"left","baseline":"middle","fontSize":14,"fontWeight":"bold","dx":-66,"dy":-20.5,"color":"#000"},"encoding":{"x":{"datum":0.001},"y":{"datum":125}}}
    ]},
   {"width":174,"height":110,
    "layer":[
     {"data":{"values":[{}]},"mark":{"type":"rule","color":"#c8c8c8","strokeWidth":1},"encoding":{"y":{"datum":50}}},
     {"data":{"name":"gfit"},"transform":[{"filter":"datum.p=='RP' || datum.p=='R'"}],"mark":{"type":"line","interpolate":"monotone","strokeWidth":1.2},
      "encoding":{"x":{"field":"x","type":"quantitative","scale":{"type":"log","domain":[0.000001,100],"range":[9,174]},"axis":{"values":[0.000001,0.0001,0.01,1,100],"tickCount":20,"format":"~g","title":"Ab dilution (μg/mL)","labelFontSize":10,"labelOverlap":false}},
       "y":{"field":"y","type":"quantitative","scale":{"domain":[0,125]},"axis":{"values":[0,25,50,75,100,125],"tickCount":20,"format":"d","title":["RABV nAb titers","% infection (normalized)"],"titleLineHeight":19,"labelFontSize":10,"labelOverlap":false,"offset":-9}},
       "color":{"field":"grp","type":"nominal","scale":{"domain":["G1","G2","G3","G4","G5","G6","G7","Pos","Neg","Bkg"]},"legend":null},"detail":{"field":"grp"}}},
     {"data":{"name":"gpts"},"transform":[{"filter":"(datum.p=='RP' || datum.p=='R') && isValid(datum.lo)"}],"mark":{"type":"rule","strokeWidth":0.8},"encoding":{"x":{"field":"x","type":"quantitative"},"y":{"field":"lo","type":"quantitative"},"y2":{"field":"hi"},"color":{"field":"grp","type":"nominal","scale":{"domain":["G1","G2","G3","G4","G5","G6","G7","Pos","Neg","Bkg"]},"legend":null}}},
     {"data":{"name":"gpts"},"transform":[{"filter":"(datum.p=='RP' || datum.p=='R') && isValid(datum.lo)"}],"mark":{"type":"tick","orient":"horizontal","size":4,"thickness":0.8},"encoding":{"x":{"field":"x","type":"quantitative"},"y":{"field":"hi","type":"quantitative"},"color":{"field":"grp","type":"nominal","scale":{"domain":["G1","G2","G3","G4","G5","G6","G7","Pos","Neg","Bkg"]},"legend":null}}},
     {"data":{"name":"gpts"},"transform":[{"filter":"(datum.p=='RP' || datum.p=='R') && isValid(datum.lo)"}],"mark":{"type":"tick","orient":"horizontal","size":4,"thickness":0.8},"encoding":{"x":{"field":"x","type":"quantitative"},"y":{"field":"lo","type":"quantitative"},"color":{"field":"grp","type":"nominal","scale":{"domain":["G1","G2","G3","G4","G5","G6","G7","Pos","Neg","Bkg"]},"legend":null}}},
     {"data":{"name":"gpts"},"transform":[{"filter":"datum.p=='RP' && datum.grp!='Pos'"}],"mark":{"type":"point","filled":true,"size":13,"opacity":1},"encoding":{"x":{"field":"x","type":"quantitative"},"y":{"field":"y","type":"quantitative"},"color":{"field":"grp","type":"nominal","scale":{"domain":["G1","G2","G3","G4","G5","G6","G7","Pos","Neg","Bkg"]},"legend":null},"shape":{"field":"grp","type":"nominal","scale":{"domain":["G1","G2","G3","G4","G5","G6","G7","Pos","Neg","Bkg"]},"legend":null}}},
     {"data":{"name":"gpts"},"transform":[{"filter":"datum.p=='R' && datum.grp=='Pos'"}],"mark":{"type":"point","filled":false,"fill":"white","size":20,"color":"#888","strokeWidth":0.8,"opacity":1},"encoding":{"x":{"field":"x","type":"quantitative"},"y":{"field":"y","type":"quantitative"}}},
     {"data":{"values":[{}]},"mark":{"type":"rule","color":"#000","strokeWidth":1},"encoding":{"x":{"datum":0.0000000066},"y":{"datum":-2},"y2":{"datum":121}}},
     {"data":{"values":[{}]},"mark":{"type":"rule","color":"#000","strokeWidth":1},"encoding":{"x":{"datum":0.0000000066},"x2":{"datum":0.0000000103},"y":{"datum":121}}},
     {"data":{"values":[{}]},"mark":{"type":"rule","color":"#000","strokeWidth":1},"encoding":{"x":{"datum":0.0000000066},"x2":{"datum":0.0000000103},"y":{"datum":-2}}}
    ]}
  ]},
  {"bounds":"flush","spacing":29,"vconcat":[
   {"width":165,"height":109,
    "layer":[
     {"data":{"values":[{}]},"mark":{"type":"rule","color":"#c8c8c8","strokeWidth":1},"encoding":{"y":{"datum":50}}},
     {"data":{"name":"gfit"},"transform":[{"filter":"datum.p=='MQ'"}],"mark":{"type":"line","interpolate":"monotone","strokeWidth":1.2},
      "encoding":{"x":{"field":"x","type":"quantitative","scale":{"type":"log","domain":[0.001,100]},"axis":{"values":[0.001,0.01,0.1,1,10,100],"tickCount":20,"format":"~g","title":null,"labelFontSize":10,"labelOverlap":false}},
       "y":{"field":"y","type":"quantitative","scale":{"domain":[0,125]},"axis":{"values":[0,25,50,75,100,125],"tickCount":20,"format":"d","title":null,"labelFontSize":10,"labelOverlap":false}},
       "color":{"field":"grp","type":"nominal","scale":{"domain":["G1","G2","G3","G4","G5","G6","G7","Pos","Neg","Bkg"]},"legend":null},"detail":{"field":"grp"}}},
     {"data":{"name":"gpts"},"transform":[{"filter":"datum.p=='MQ' && isValid(datum.lo)"}],"mark":{"type":"rule","strokeWidth":0.8},"encoding":{"x":{"field":"x","type":"quantitative"},"y":{"field":"lo","type":"quantitative"},"y2":{"field":"hi"},"color":{"field":"grp","type":"nominal","scale":{"domain":["G1","G2","G3","G4","G5","G6","G7","Pos","Neg","Bkg"]},"legend":null}}},
     {"data":{"name":"gpts"},"transform":[{"filter":"datum.p=='MQ' && isValid(datum.lo)"}],"mark":{"type":"tick","orient":"horizontal","size":4,"thickness":0.8},"encoding":{"x":{"field":"x","type":"quantitative"},"y":{"field":"hi","type":"quantitative"},"color":{"field":"grp","type":"nominal","scale":{"domain":["G1","G2","G3","G4","G5","G6","G7","Pos","Neg","Bkg"]},"legend":null}}},
     {"data":{"name":"gpts"},"transform":[{"filter":"datum.p=='MQ' && isValid(datum.lo)"}],"mark":{"type":"tick","orient":"horizontal","size":4,"thickness":0.8},"encoding":{"x":{"field":"x","type":"quantitative"},"y":{"field":"lo","type":"quantitative"},"color":{"field":"grp","type":"nominal","scale":{"domain":["G1","G2","G3","G4","G5","G6","G7","Pos","Neg","Bkg"]},"legend":null}}},
     {"data":{"name":"gpts"},"transform":[{"filter":"datum.p=='MQ' && datum.grp!='Pos'"}],"mark":{"type":"point","filled":true,"size":13,"opacity":1},"encoding":{"x":{"field":"x","type":"quantitative"},"y":{"field":"y","type":"quantitative"},"color":{"field":"grp","type":"nominal","scale":{"domain":["G1","G2","G3","G4","G5","G6","G7","Pos","Neg","Bkg"]},"legend":null},"shape":{"field":"grp","type":"nominal","scale":{"domain":["G1","G2","G3","G4","G5","G6","G7","Pos","Neg","Bkg"]},"legend":null}}},
     {"data":{"name":"gpts"},"transform":[{"filter":"datum.p=='MQ' && datum.grp=='Pos'"}],"mark":{"type":"point","filled":false,"fill":"white","size":20,"color":"#888","strokeWidth":0.8,"opacity":1},"encoding":{"x":{"field":"x","type":"quantitative"},"y":{"field":"y","type":"quantitative"}}},
     {"data":{"values":[{}]},"mark":{"type":"rule","color":"#000","strokeWidth":1},"encoding":{"x":{"datum":0.001},"x2":{"datum":100},"y":{"datum":139.5}}},
     {"data":{"values":[{}]},"mark":{"type":"rule","color":"#000","strokeWidth":1},"encoding":{"x":{"datum":0.001},"y":{"datum":134},"y2":{"datum":139.5}}},
     {"data":{"values":[{}]},"mark":{"type":"rule","color":"#000","strokeWidth":1},"encoding":{"x":{"datum":100},"y":{"datum":134},"y2":{"datum":139.5}}},
     {"data":{"values":[{}]},"mark":{"type":"text","text":"Post-challenge","fontSize":11,"fontWeight":"bold","baseline":"middle","dy":-21,"color":"#000"},"encoding":{"x":{"datum":0.3162},"y":{"datum":125}}}
    ]},
   {"width":165,"height":110,
    "layer":[
     {"data":{"values":[{}]},"mark":{"type":"rule","color":"#c8c8c8","strokeWidth":1},"encoding":{"y":{"datum":50}}},
     {"data":{"name":"gfit"},"transform":[{"filter":"datum.p=='RQ' || datum.p=='R'"}],"mark":{"type":"line","interpolate":"monotone","strokeWidth":1.2},
      "encoding":{"x":{"field":"x","type":"quantitative","scale":{"type":"log","domain":[0.000001,100]},"axis":{"values":[0.000001,0.0001,0.01,1,100],"tickCount":20,"format":"~g","title":"Ab dilution (μg/mL)","labelFontSize":10,"labelOverlap":false}},
       "y":{"field":"y","type":"quantitative","scale":{"domain":[0,125]},"axis":{"values":[0,25,50,75,100,125],"tickCount":20,"format":"d","title":null,"labelFontSize":10,"labelOverlap":false}},
       "color":{"field":"grp","type":"nominal","scale":{"domain":["G1","G2","G3","G4","G5","G6","G7","Pos","Neg","Bkg"]},"legend":null},"detail":{"field":"grp"}}},
     {"data":{"name":"gpts"},"transform":[{"filter":"(datum.p=='RQ' || datum.p=='R') && isValid(datum.lo)"}],"mark":{"type":"rule","strokeWidth":0.8},"encoding":{"x":{"field":"x","type":"quantitative"},"y":{"field":"lo","type":"quantitative"},"y2":{"field":"hi"},"color":{"field":"grp","type":"nominal","scale":{"domain":["G1","G2","G3","G4","G5","G6","G7","Pos","Neg","Bkg"]},"legend":null}}},
     {"data":{"name":"gpts"},"transform":[{"filter":"(datum.p=='RQ' || datum.p=='R') && isValid(datum.lo)"}],"mark":{"type":"tick","orient":"horizontal","size":4,"thickness":0.8},"encoding":{"x":{"field":"x","type":"quantitative"},"y":{"field":"hi","type":"quantitative"},"color":{"field":"grp","type":"nominal","scale":{"domain":["G1","G2","G3","G4","G5","G6","G7","Pos","Neg","Bkg"]},"legend":null}}},
     {"data":{"name":"gpts"},"transform":[{"filter":"(datum.p=='RQ' || datum.p=='R') && isValid(datum.lo)"}],"mark":{"type":"tick","orient":"horizontal","size":4,"thickness":0.8},"encoding":{"x":{"field":"x","type":"quantitative"},"y":{"field":"lo","type":"quantitative"},"color":{"field":"grp","type":"nominal","scale":{"domain":["G1","G2","G3","G4","G5","G6","G7","Pos","Neg","Bkg"]},"legend":null}}},
     {"data":{"name":"gpts"},"transform":[{"filter":"datum.p=='RQ' && datum.grp!='Pos'"}],"mark":{"type":"point","filled":true,"size":13,"opacity":1},"encoding":{"x":{"field":"x","type":"quantitative"},"y":{"field":"y","type":"quantitative"},"color":{"field":"grp","type":"nominal","scale":{"domain":["G1","G2","G3","G4","G5","G6","G7","Pos","Neg","Bkg"]},"legend":null},"shape":{"field":"grp","type":"nominal","scale":{"domain":["G1","G2","G3","G4","G5","G6","G7","Pos","Neg","Bkg"]},"legend":null}}},
     {"data":{"name":"gpts"},"transform":[{"filter":"datum.p=='R' && datum.grp=='Pos'"}],"mark":{"type":"point","filled":false,"fill":"white","size":20,"color":"#888","strokeWidth":0.8,"opacity":1},"encoding":{"x":{"field":"x","type":"quantitative"},"y":{"field":"y","type":"quantitative"}}}
    ]}
  ]}
 ]}
]
}
